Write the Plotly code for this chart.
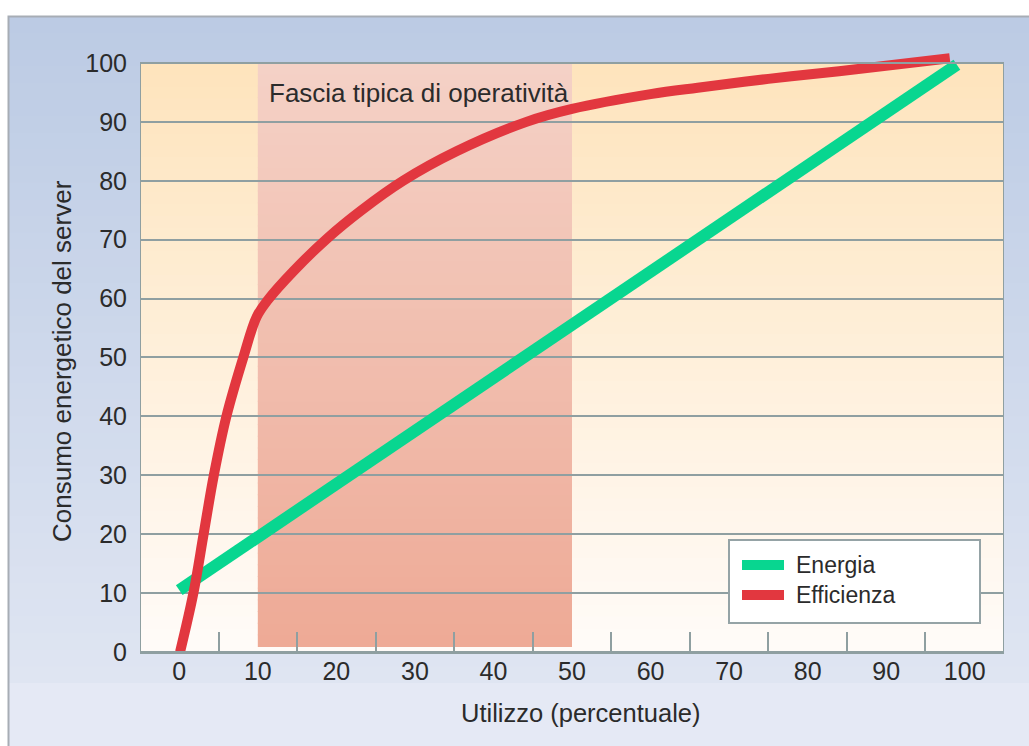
import plotly.graph_objects as go

# ---------------- data ----------------
x_tick_vals = [0, 10, 20, 30, 40, 50, 60, 70, 80, 90, 100]
y_tick_vals = [0, 10, 20, 30, 40, 50, 60, 70, 80, 90, 100]
x_minor_ticks = [5, 15, 25, 35, 45, 55, 65, 75, 85, 95]

energia_x = [0, 99]
energia_y = [10.5, 99.7]

efficienza_x = [0.1, 1.8, 3.1, 4.4, 6.0, 8.15, 9.85, 11.3, 14.5, 18.9,
                23.2, 28.5, 35.3, 44.2, 50, 60, 66, 75, 84, 98.1]
efficienza_y = [0, 10, 20, 30, 40, 50, 56.9, 59.8, 64.6, 70.3,
                75, 80, 85, 90, 92.2, 94.7, 95.8, 97.3, 98.6, 100.8]

band_range = [10, 50]
band_bottom = 0.85
band_label = "Fascia tipica di operatività"

series_names = ["Energia", "Efficienza"]
series_colors = ["#08d690", "#e2373f"]

x_title = "Utilizzo (percentuale)"
y_title = "Consumo energetico del server"

# ---------------- layout geometry ----------------
W, H = 1029, 746
L, R, T, B = 140, 25, 50, 94
Y_MAX = 102.2
FONT = "Liberation Sans, Arial, sans-serif"
TXT = "#2b2b2b"
GRID = "#8f9fa1"


def pxx(p):
    return (p - L) / (W - L - R)


def pxy(p):
    return (H - B - p) / (H - T - B)


def hex2rgb(h):
    h = h.lstrip("#")
    return [int(h[i:i + 2], 16) for i in (0, 2, 4)]


def mix(c1, c2, t):
    a, b = hex2rgb(c1), hex2rgb(c2)
    return "rgb(%d,%d,%d)" % tuple(round(a[i] + (b[i] - a[i]) * t) for i in range(3))


shapes = []

# outer background (paper) gradient
N = 40
top_px, bot_px = 16, 683
for i in range(N):
    y0 = top_px + (bot_px - top_px) * i / N
    y1 = top_px + (bot_px - top_px) * (i + 1) / N + 0.8
    shapes.append(dict(type="rect", xref="paper", yref="paper", layer="below",
                       x0=pxx(8), x1=pxx(W + 10), y0=pxy(y0), y1=pxy(y1),
                       fillcolor=mix("#bccbe4", "#dfe5f2", i / (N - 1)), line_width=0))
shapes.append(dict(type="rect", xref="paper", yref="paper", layer="below",
                   x0=pxx(8), x1=pxx(W + 10), y0=pxy(bot_px), y1=pxy(H + 10),
                   fillcolor="#e5e9f5", line_width=0))
# outer frame
shapes.append(dict(type="rect", xref="paper", yref="paper", layer="below",
                   x0=pxx(8.5), x1=pxx(W + 10), y0=pxy(16.5), y1=pxy(H + 10),
                   fillcolor="rgba(0,0,0,0)", line=dict(color="#a7adb5", width=2)))

# plot-area gradient (y 0..100)
M = 50
for i in range(M):
    y0 = 100 * i / M
    y1 = 100 * (i + 1) / M + 0.15
    shapes.append(dict(type="rect", xref="x", yref="y", layer="below",
                       x0=-5, x1=105, y0=y0, y1=min(y1, 100),
                       fillcolor=mix("#fffbf8", "#fee4bd", i / (M - 1)), line_width=0))

# typical operating band
for i in range(M):
    y0 = band_bottom + (100 - band_bottom) * i / M
    y1 = band_bottom + (100 - band_bottom) * (i + 1) / M + 0.15
    shapes.append(dict(type="rect", xref="x", yref="y", layer="below",
                       x0=band_range[0], x1=band_range[1], y0=y0, y1=min(y1, 100),
                       fillcolor=mix("#eeaa96", "#f4d1c6", i / (M - 1)), line_width=0))

# plot border
shapes.append(dict(type="rect", xref="x", yref="y", layer="above",
                   x0=-5, x1=105, y0=0, y1=100,
                   fillcolor="rgba(0,0,0,0)", line=dict(color=GRID, width=2)))

# legend box (manual)
LEG_L, LEG_T, LEG_R, LEG_B = 729, 540, 980, 623
shapes.append(dict(type="rect", xref="paper", yref="paper", layer="above",
                   x0=pxx(LEG_L), x1=pxx(LEG_R), y0=pxy(LEG_B), y1=pxy(LEG_T),
                   fillcolor="white", line=dict(color="#95a3a6", width=2)))
leg_rows = [565, 595]
for name, col, ry in zip(series_names, series_colors, leg_rows):
    shapes.append(dict(type="line", xref="paper", yref="paper", layer="above",
                       x0=pxx(742), x1=pxx(784), y0=pxy(ry), y1=pxy(ry),
                       line=dict(color=col, width=10)))

fig = go.Figure()
fig.add_trace(go.Scatter(x=energia_x, y=energia_y, mode="lines", name=series_names[0],
                         line=dict(color=series_colors[0], width=12)))
fig.add_trace(go.Scatter(x=efficienza_x, y=efficienza_y, mode="lines", name=series_names[1],
                         line=dict(color=series_colors[1], width=10, shape="spline",
                                   smoothing=1.0)))

annotations = [
    dict(text=band_label, x=11.2, y=94.9, xref="x", yref="y", xanchor="left",
         yanchor="middle", showarrow=False, font=dict(size=26, color=TXT, family=FONT)),
    dict(text=x_title, x=pxx(581), y=pxy(713), xref="paper", yref="paper",
         xanchor="center", yanchor="middle", showarrow=False,
         font=dict(size=25.5, color=TXT, family=FONT)),
    dict(text=y_title, x=pxx(62), y=pxy(361), xref="paper", yref="paper",
         xanchor="center", yanchor="middle", textangle=-90, showarrow=False,
         font=dict(size=26, color=TXT, family=FONT)),
]
for name, ry in zip(series_names, leg_rows):
    annotations.append(dict(text=name, x=pxx(794), y=pxy(ry), xref="paper", yref="paper",
                            xanchor="left", yanchor="middle", showarrow=False,
                            font=dict(size=23, color=TXT, family=FONT)))

fig.update_layout(
    width=W, height=H,
    margin=dict(l=L, r=R, t=T, b=B, pad=0),
    paper_bgcolor="white",
    plot_bgcolor="rgba(0,0,0,0)",
    font=dict(family=FONT, size=25, color=TXT),
    shapes=shapes,
    annotations=annotations,
    showlegend=False,
    xaxis=dict(range=[-5, 105], tickmode="array", tickvals=x_tick_vals,
               ticks="", showgrid=False, zeroline=False, showline=True,
               linecolor=GRID, linewidth=2, ticklabelstandoff=-4,
               tickfont=dict(size=25, color=TXT, family=FONT),
               minor=dict(tickmode="array", tickvals=x_minor_ticks, ticks="inside",
                          ticklen=20, tickwidth=2, tickcolor=GRID, showgrid=False),
               fixedrange=True),
    yaxis=dict(range=[0, Y_MAX], tickmode="array", tickvals=y_tick_vals,
               ticks="", showgrid=True, gridcolor=GRID, gridwidth=2,
               zeroline=False, showline=False, ticklabelstandoff=12,
               tickfont=dict(size=25, color=TXT, family=FONT), fixedrange=True),
)

fig.write_html("out.html", config={"displayModeBar": False},
               post_script="document.body.style.margin='0px';")
